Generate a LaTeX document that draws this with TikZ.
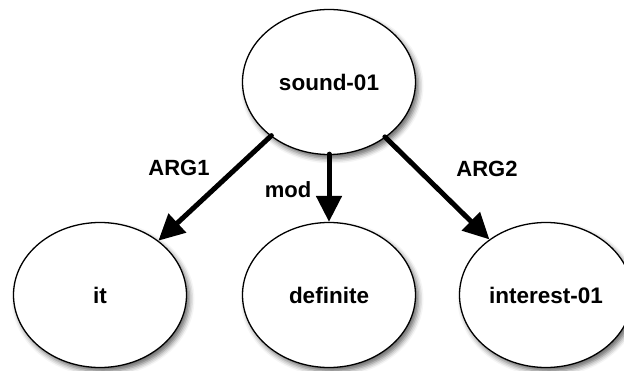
\documentclass[tikz,border=0pt]{standalone}
\usepackage{fontspec}
\setmainfont{Liberation Sans}
\usetikzlibrary{shapes.geometric,arrows.meta,shadows.blur}
\begin{document}
\begin{tikzpicture}[x=1pt,y=-1pt,
  concept/.style={ellipse,draw=black,line width=1.3pt,fill=white,
    minimum width=173pt,minimum height=145pt,inner sep=0pt,
    font=\bfseries\fontsize{22.5}{26}\selectfont,
    blur shadow={shadow xshift=3pt,shadow yshift=-4pt,shadow blur radius=5pt,shadow opacity=60}},
  rel/.style={line width=5pt,line cap=round,
    -{Triangle[length=26pt,width=25pt]},shorten <=-1pt},
  rlabel/.style={font=\bfseries\fontsize{22}{26}\selectfont,inner sep=0pt}]
\useasboundingbox (0,0) rectangle (624,371);
\clip (0,0) rectangle (624,371);
\node[concept] (sound) at (329,82) {sound-01};
\node[concept] (it) at (100,295) {it};
\node[concept] (definite) at (329,295) {definite};
\node[concept] (interest) at (546,295) {interest-01};
\draw[rel] (sound) -- (it);
\draw[rel] (sound) -- (definite);
\draw[rel] (sound) -- (interest);
\node[rlabel] (arg1) at (179,168) {ARG1};
\node[rlabel] (mod) at (288,190) {mod};
\node[rlabel] (arg2) at (487,169) {ARG2};
\end{tikzpicture}
\end{document}
